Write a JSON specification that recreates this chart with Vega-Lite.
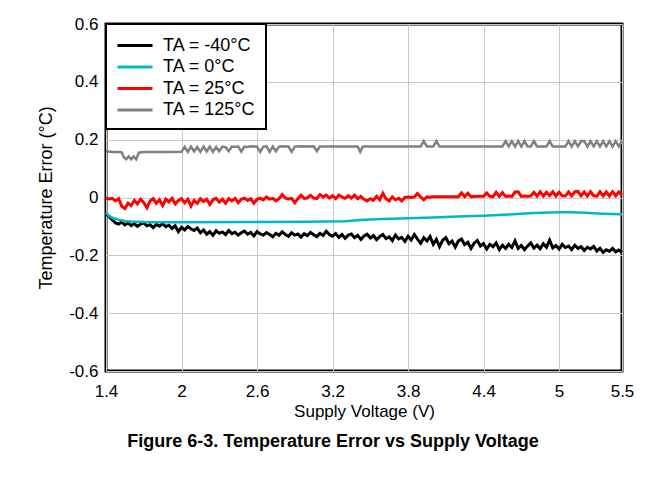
{
  "$schema": "https://vega.github.io/schema/vega-lite/v6.json",
  "width": 516,
  "height": 347,
  "autosize": {"type": "none"},
  "padding": {"left": 106, "top": 24, "right": 42, "bottom": 116},
  "background": "white",
  "config": {
    "font": "Liberation Sans",
    "view": {"stroke": "black", "strokeWidth": 3},
    "legend": {
      "orient": "top-left", "offset": 0, "padding": 10, "rowPadding": 0.5,
      "strokeColor": "black", "strokeWidth": 2, "fillColor": "white",
      "symbolType": "M-1,0H2.5", "symbolSize": 400, "symbolStrokeWidth": 3,
      "labelFontSize": 18, "labelOffset": 24, "labelColor": "black", "labelFont": "Liberation Sans"
    }
  },
  "title": {
    "text": "Figure 6-3. Temperature Error vs Supply Voltage",
    "orient": "bottom", "anchor": "middle", "frame": "group", "dx": -31, "offset": 14,
    "fontSize": 18, "fontWeight": "bold", "color": "black", "font": "Liberation Sans"
  },
  "datasets": {
    "black": [
      {"v":1.4,"e":-0.058},{"v":1.425,"e":-0.066},{"v":1.45,"e":-0.078},{"v":1.475,"e":-0.088},{"v":1.5,"e":-0.092},{"v":1.525,"e":-0.085},{"v":1.55,"e":-0.095},{"v":1.575,"e":-0.088},{"v":1.6,"e":-0.097},{"v":1.625,"e":-0.09},{"v":1.65,"e":-0.1},{"v":1.675,"e":-0.092},{"v":1.7,"e":-0.088},{"v":1.725,"e":-0.098},{"v":1.75,"e":-0.094},{"v":1.775,"e":-0.104},{"v":1.8,"e":-0.093},{"v":1.825,"e":-0.099},{"v":1.85,"e":-0.09},{"v":1.875,"e":-0.101},{"v":1.9,"e":-0.096},{"v":1.925,"e":-0.107},{"v":1.95,"e":-0.098},{"v":1.975,"e":-0.118},{"v":2.0,"e":-0.103},{"v":2.025,"e":-0.112},{"v":2.05,"e":-0.1},{"v":2.075,"e":-0.108},{"v":2.1,"e":-0.114},{"v":2.125,"e":-0.106},{"v":2.15,"e":-0.122},{"v":2.175,"e":-0.112},{"v":2.2,"e":-0.127},{"v":2.225,"e":-0.118},{"v":2.25,"e":-0.131},{"v":2.275,"e":-0.115},{"v":2.3,"e":-0.124},{"v":2.325,"e":-0.119},{"v":2.35,"e":-0.128},{"v":2.375,"e":-0.114},{"v":2.4,"e":-0.125},{"v":2.425,"e":-0.12},{"v":2.45,"e":-0.13},{"v":2.475,"e":-0.122},{"v":2.5,"e":-0.116},{"v":2.525,"e":-0.127},{"v":2.55,"e":-0.121},{"v":2.575,"e":-0.133},{"v":2.6,"e":-0.118},{"v":2.625,"e":-0.126},{"v":2.65,"e":-0.13},{"v":2.675,"e":-0.121},{"v":2.7,"e":-0.128},{"v":2.725,"e":-0.136},{"v":2.75,"e":-0.124},{"v":2.775,"e":-0.131},{"v":2.8,"e":-0.119},{"v":2.825,"e":-0.128},{"v":2.85,"e":-0.134},{"v":2.875,"e":-0.122},{"v":2.9,"e":-0.13},{"v":2.925,"e":-0.126},{"v":2.95,"e":-0.137},{"v":2.975,"e":-0.125},{"v":3.0,"e":-0.132},{"v":3.025,"e":-0.121},{"v":3.05,"e":-0.129},{"v":3.075,"e":-0.135},{"v":3.1,"e":-0.124},{"v":3.125,"e":-0.131},{"v":3.15,"e":-0.117},{"v":3.175,"e":-0.128},{"v":3.2,"e":-0.134},{"v":3.225,"e":-0.125},{"v":3.25,"e":-0.138},{"v":3.275,"e":-0.128},{"v":3.3,"e":-0.141},{"v":3.325,"e":-0.13},{"v":3.35,"e":-0.126},{"v":3.375,"e":-0.139},{"v":3.4,"e":-0.131},{"v":3.425,"e":-0.145},{"v":3.45,"e":-0.133},{"v":3.475,"e":-0.127},{"v":3.5,"e":-0.14},{"v":3.525,"e":-0.132},{"v":3.55,"e":-0.146},{"v":3.575,"e":-0.135},{"v":3.6,"e":-0.128},{"v":3.625,"e":-0.142},{"v":3.65,"e":-0.136},{"v":3.675,"e":-0.149},{"v":3.7,"e":-0.13},{"v":3.725,"e":-0.143},{"v":3.75,"e":-0.138},{"v":3.775,"e":-0.152},{"v":3.8,"e":-0.134},{"v":3.825,"e":-0.147},{"v":3.85,"e":-0.128},{"v":3.875,"e":-0.144},{"v":3.9,"e":-0.158},{"v":3.925,"e":-0.139},{"v":3.95,"e":-0.15},{"v":3.975,"e":-0.135},{"v":4.0,"e":-0.162},{"v":4.025,"e":-0.145},{"v":4.05,"e":-0.17},{"v":4.075,"e":-0.148},{"v":4.1,"e":-0.139},{"v":4.125,"e":-0.16},{"v":4.15,"e":-0.151},{"v":4.175,"e":-0.172},{"v":4.2,"e":-0.15},{"v":4.225,"e":-0.144},{"v":4.25,"e":-0.163},{"v":4.275,"e":-0.155},{"v":4.3,"e":-0.176},{"v":4.325,"e":-0.158},{"v":4.35,"e":-0.149},{"v":4.375,"e":-0.168},{"v":4.4,"e":-0.16},{"v":4.425,"e":-0.178},{"v":4.45,"e":-0.162},{"v":4.475,"e":-0.17},{"v":4.5,"e":-0.157},{"v":4.525,"e":-0.18},{"v":4.55,"e":-0.165},{"v":4.575,"e":-0.176},{"v":4.6,"e":-0.162},{"v":4.625,"e":-0.173},{"v":4.65,"e":-0.15},{"v":4.675,"e":-0.176},{"v":4.7,"e":-0.166},{"v":4.725,"e":-0.18},{"v":4.75,"e":-0.168},{"v":4.775,"e":-0.157},{"v":4.8,"e":-0.175},{"v":4.825,"e":-0.165},{"v":4.85,"e":-0.177},{"v":4.875,"e":-0.16},{"v":4.9,"e":-0.172},{"v":4.925,"e":-0.148},{"v":4.95,"e":-0.174},{"v":4.975,"e":-0.166},{"v":5.0,"e":-0.178},{"v":5.025,"e":-0.162},{"v":5.05,"e":-0.173},{"v":5.075,"e":-0.168},{"v":5.1,"e":-0.18},{"v":5.125,"e":-0.165},{"v":5.15,"e":-0.176},{"v":5.175,"e":-0.17},{"v":5.2,"e":-0.183},{"v":5.225,"e":-0.172},{"v":5.25,"e":-0.178},{"v":5.275,"e":-0.169},{"v":5.3,"e":-0.185},{"v":5.325,"e":-0.176},{"v":5.35,"e":-0.19},{"v":5.375,"e":-0.181},{"v":5.4,"e":-0.186},{"v":5.425,"e":-0.176},{"v":5.45,"e":-0.188},{"v":5.475,"e":-0.182},{"v":5.5,"e":-0.19}
    ],
    "cyan": [
      {"v":1.4,"e":-0.052},{"v":1.42,"e":-0.062},{"v":1.45,"e":-0.07},{"v":1.5,"e":-0.077},{"v":1.55,"e":-0.081},{"v":1.6,"e":-0.083},{"v":1.7,"e":-0.085},{"v":1.8,"e":-0.086},{"v":2.0,"e":-0.086},{"v":2.5,"e":-0.085},{"v":3.0,"e":-0.084},{"v":3.3,"e":-0.082},{"v":3.45,"e":-0.077},{"v":3.6,"e":-0.074},{"v":3.8,"e":-0.072},{"v":4.0,"e":-0.069},{"v":4.2,"e":-0.066},{"v":4.4,"e":-0.063},{"v":4.6,"e":-0.059},{"v":4.8,"e":-0.054},{"v":5.0,"e":-0.051},{"v":5.1,"e":-0.051},{"v":5.2,"e":-0.053},{"v":5.35,"e":-0.056},{"v":5.5,"e":-0.058}
    ],
    "red": [
      {"v":1.4,"e":-0.002},{"v":1.425,"e":-0.005},{"v":1.45,"e":-0.003},{"v":1.475,"e":-0.012},{"v":1.5,"e":-0.004},{"v":1.525,"e":-0.03},{"v":1.55,"e":-0.038},{"v":1.575,"e":-0.02},{"v":1.6,"e":-0.028},{"v":1.625,"e":-0.01},{"v":1.65,"e":-0.022},{"v":1.675,"e":-0.006},{"v":1.7,"e":-0.018},{"v":1.725,"e":-0.036},{"v":1.75,"e":-0.012},{"v":1.775,"e":-0.004},{"v":1.8,"e":-0.02},{"v":1.825,"e":-0.008},{"v":1.85,"e":-0.028},{"v":1.875,"e":-0.006},{"v":1.9,"e":-0.015},{"v":1.925,"e":-0.003},{"v":1.95,"e":-0.022},{"v":1.975,"e":-0.01},{"v":2.0,"e":-0.004},{"v":2.025,"e":-0.018},{"v":2.05,"e":-0.006},{"v":2.075,"e":-0.03},{"v":2.1,"e":-0.01},{"v":2.125,"e":-0.02},{"v":2.15,"e":-0.004},{"v":2.175,"e":-0.014},{"v":2.2,"e":-0.006},{"v":2.225,"e":-0.024},{"v":2.25,"e":-0.008},{"v":2.275,"e":-0.003},{"v":2.3,"e":-0.016},{"v":2.325,"e":-0.006},{"v":2.35,"e":-0.02},{"v":2.375,"e":-0.004},{"v":2.4,"e":-0.012},{"v":2.425,"e":-0.003},{"v":2.45,"e":-0.018},{"v":2.475,"e":-0.006},{"v":2.5,"e":-0.002},{"v":2.525,"e":-0.01},{"v":2.55,"e":-0.004},{"v":2.575,"e":-0.02},{"v":2.6,"e":-0.006},{"v":2.625,"e":-0.002},{"v":2.65,"e":-0.008},{"v":2.675,"e":0.002},{"v":2.7,"e":-0.006},{"v":2.725,"e":-0.003},{"v":2.75,"e":-0.012},{"v":2.775,"e":-0.004},{"v":2.8,"e":0.01},{"v":2.825,"e":-0.002},{"v":2.85,"e":-0.005},{"v":2.875,"e":-0.003},{"v":2.9,"e":-0.018},{"v":2.925,"e":-0.004},{"v":2.95,"e":0.008},{"v":2.975,"e":-0.003},{"v":3.0,"e":-0.002},{"v":3.025,"e":0.008},{"v":3.05,"e":-0.002},{"v":3.075,"e":-0.004},{"v":3.1,"e":0.01},{"v":3.125,"e":0.002},{"v":3.15,"e":0.008},{"v":3.175,"e":-0.002},{"v":3.2,"e":0.006},{"v":3.225,"e":-0.004},{"v":3.25,"e":0.008},{"v":3.275,"e":0.002},{"v":3.3,"e":-0.003},{"v":3.325,"e":0.006},{"v":3.35,"e":-0.002},{"v":3.375,"e":0.008},{"v":3.4,"e":-0.004},{"v":3.425,"e":0.004},{"v":3.45,"e":-0.006},{"v":3.475,"e":-0.012},{"v":3.5,"e":-0.004},{"v":3.525,"e":-0.01},{"v":3.55,"e":0.004},{"v":3.575,"e":-0.008},{"v":3.6,"e":0.015},{"v":3.625,"e":-0.004},{"v":3.65,"e":-0.012},{"v":3.675,"e":0.002},{"v":3.7,"e":-0.008},{"v":3.725,"e":-0.003},{"v":3.75,"e":-0.012},{"v":3.775,"e":0.0},{"v":3.8,"e":0.002},{"v":3.825,"e":0.0},{"v":3.85,"e":0.002},{"v":3.875,"e":0.014},{"v":3.9,"e":0.002},{"v":3.925,"e":-0.008},{"v":3.95,"e":0.002},{"v":3.975,"e":0.001},{"v":4.0,"e":0.003},{"v":4.05,"e":0.003},{"v":4.1,"e":0.003},{"v":4.15,"e":0.003},{"v":4.2,"e":0.003},{"v":4.225,"e":0.016},{"v":4.25,"e":0.003},{"v":4.275,"e":0.015},{"v":4.3,"e":0.003},{"v":4.35,"e":0.004},{"v":4.4,"e":0.004},{"v":4.425,"e":0.016},{"v":4.45,"e":0.004},{"v":4.475,"e":0.003},{"v":4.5,"e":0.018},{"v":4.525,"e":0.004},{"v":4.55,"e":0.017},{"v":4.575,"e":0.004},{"v":4.6,"e":0.005},{"v":4.625,"e":0.004},{"v":4.65,"e":0.019},{"v":4.675,"e":0.02},{"v":4.7,"e":0.004},{"v":4.725,"e":0.005},{"v":4.75,"e":0.004},{"v":4.775,"e":0.005},{"v":4.8,"e":0.018},{"v":4.825,"e":0.005},{"v":4.85,"e":0.02},{"v":4.875,"e":0.005},{"v":4.9,"e":0.018},{"v":4.925,"e":0.006},{"v":4.95,"e":0.02},{"v":4.975,"e":0.005},{"v":5.0,"e":0.018},{"v":5.025,"e":0.006},{"v":5.05,"e":0.005},{"v":5.075,"e":0.019},{"v":5.1,"e":0.006},{"v":5.125,"e":0.02},{"v":5.15,"e":0.021},{"v":5.175,"e":0.006},{"v":5.2,"e":0.019},{"v":5.225,"e":0.005},{"v":5.25,"e":0.02},{"v":5.275,"e":0.006},{"v":5.3,"e":0.005},{"v":5.325,"e":0.02},{"v":5.35,"e":0.006},{"v":5.375,"e":0.019},{"v":5.4,"e":0.005},{"v":5.425,"e":0.02},{"v":5.45,"e":0.006},{"v":5.475,"e":0.019},{"v":5.5,"e":0.008}
    ],
    "grey": [
      {"v":1.4,"e":0.16},{"v":1.45,"e":0.157},{"v":1.5,"e":0.157},{"v":1.525,"e":0.156},{"v":1.54,"e":0.14},{"v":1.56,"e":0.132},{"v":1.58,"e":0.142},{"v":1.6,"e":0.132},{"v":1.62,"e":0.142},{"v":1.64,"e":0.132},{"v":1.66,"e":0.155},{"v":1.7,"e":0.157},{"v":1.8,"e":0.157},{"v":1.9,"e":0.157},{"v":2.0,"e":0.158},{"v":2.025,"e":0.175},{"v":2.05,"e":0.158},{"v":2.075,"e":0.176},{"v":2.1,"e":0.159},{"v":2.125,"e":0.175},{"v":2.15,"e":0.158},{"v":2.175,"e":0.176},{"v":2.2,"e":0.159},{"v":2.225,"e":0.176},{"v":2.25,"e":0.158},{"v":2.275,"e":0.175},{"v":2.3,"e":0.16},{"v":2.325,"e":0.176},{"v":2.35,"e":0.174},{"v":2.375,"e":0.16},{"v":2.4,"e":0.176},{"v":2.425,"e":0.175},{"v":2.45,"e":0.177},{"v":2.475,"e":0.159},{"v":2.5,"e":0.176},{"v":2.525,"e":0.175},{"v":2.55,"e":0.177},{"v":2.575,"e":0.176},{"v":2.6,"e":0.176},{"v":2.625,"e":0.158},{"v":2.65,"e":0.176},{"v":2.675,"e":0.177},{"v":2.7,"e":0.158},{"v":2.725,"e":0.176},{"v":2.75,"e":0.16},{"v":2.775,"e":0.176},{"v":2.8,"e":0.177},{"v":2.825,"e":0.176},{"v":2.85,"e":0.176},{"v":2.875,"e":0.158},{"v":2.9,"e":0.176},{"v":2.95,"e":0.177},{"v":3.0,"e":0.176},{"v":3.05,"e":0.177},{"v":3.075,"e":0.16},{"v":3.1,"e":0.176},{"v":3.2,"e":0.176},{"v":3.3,"e":0.176},{"v":3.4,"e":0.176},{"v":3.42,"e":0.158},{"v":3.44,"e":0.176},{"v":3.6,"e":0.176},{"v":3.8,"e":0.176},{"v":3.9,"e":0.176},{"v":3.925,"e":0.195},{"v":3.95,"e":0.176},{"v":4.0,"e":0.176},{"v":4.025,"e":0.195},{"v":4.05,"e":0.176},{"v":4.2,"e":0.176},{"v":4.4,"e":0.176},{"v":4.55,"e":0.176},{"v":4.575,"e":0.195},{"v":4.6,"e":0.177},{"v":4.625,"e":0.195},{"v":4.65,"e":0.176},{"v":4.675,"e":0.195},{"v":4.7,"e":0.176},{"v":4.725,"e":0.195},{"v":4.75,"e":0.176},{"v":4.775,"e":0.176},{"v":4.8,"e":0.195},{"v":4.825,"e":0.176},{"v":4.9,"e":0.176},{"v":4.925,"e":0.195},{"v":4.95,"e":0.176},{"v":5.05,"e":0.176},{"v":5.075,"e":0.195},{"v":5.1,"e":0.176},{"v":5.125,"e":0.195},{"v":5.15,"e":0.177},{"v":5.175,"e":0.195},{"v":5.2,"e":0.195},{"v":5.225,"e":0.176},{"v":5.25,"e":0.195},{"v":5.275,"e":0.177},{"v":5.3,"e":0.195},{"v":5.325,"e":0.176},{"v":5.35,"e":0.195},{"v":5.375,"e":0.177},{"v":5.4,"e":0.195},{"v":5.425,"e":0.176},{"v":5.45,"e":0.195},{"v":5.475,"e":0.177},{"v":5.5,"e":0.195}
    ]
  },
  "encoding": {
    "x": {
      "field": "v", "type": "quantitative",
      "scale": {"domain": [1.4, 5.5], "nice": false, "zero": false},
      "axis": {
        "values": [1.4, 2, 2.6, 3.2, 3.8, 4.4, 5, 5.5], "format": "~g",
        "title": "Supply Voltage (V)", "domain": false, "ticks": false,
        "grid": true, "gridColor": "#c8c8c8", "gridWidth": 1,
        "labelFontSize": 17, "labelPadding": 12, "labelFlush": false, "labelColor": "black",
        "titleFontSize": 17, "titleFontWeight": "normal", "titleColor": "black", "titlePadding": 4
      }
    },
    "y": {
      "field": "e", "type": "quantitative",
      "scale": {"domain": [-0.6, 0.6], "nice": false},
      "axis": {
        "values": [-0.6, -0.4, -0.2, 0, 0.2, 0.4, 0.6],
        "labelExpr": "datum.value == 0 ? '0' : (datum.value < 0 ? '-' : '') + format(abs(datum.value), '.1f')",
        "title": "Temperature Error (°C)", "domain": false, "ticks": false,
        "grid": true, "gridColor": "#c8c8c8", "gridWidth": 1,
        "labelFontSize": 17, "labelPadding": 8, "labelFlush": false, "labelColor": "black",
        "titleFontSize": 18, "titleFontWeight": "normal", "titleColor": "black", "titlePadding": 13
      }
    }
  },
  "layer": [
    {
      "data": {"name": "black"},
      "mark": {"type": "line", "strokeWidth": 3},
      "encoding": {
        "color": {
          "datum": "TA = -40°C", "type": "nominal",
          "scale": {
            "domain": ["TA = -40°C", "TA = 0°C", "TA = 25°C", "TA = 125°C"],
            "range": ["#000000", "#00b8cc", "#ff0000", "#808080"]
          },
          "legend": {"title": null}
        }
      }
    },
    {
      "data": {"name": "cyan"},
      "mark": {"type": "line", "strokeWidth": 2.5},
      "encoding": {"color": {"datum": "TA = 0°C", "type": "nominal"}}
    },
    {
      "data": {"name": "red"},
      "mark": {"type": "line", "strokeWidth": 3},
      "encoding": {"color": {"datum": "TA = 25°C", "type": "nominal"}}
    },
    {
      "data": {"name": "grey"},
      "mark": {"type": "line", "strokeWidth": 2.5},
      "encoding": {"color": {"datum": "TA = 125°C", "type": "nominal"}}
    }
  ]
}
